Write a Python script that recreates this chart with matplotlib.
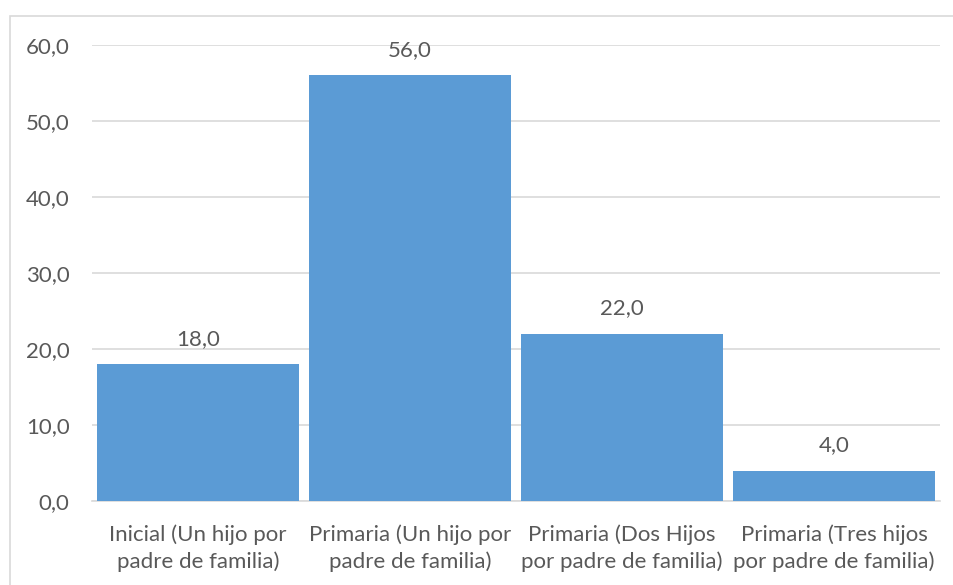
import matplotlib.pyplot as plt
from matplotlib.patches import Rectangle

# Data
categories = ["Inicial (Un hijo por\npadre de familia)",
              "Primaria (Un hijo por\npadre de familia)",
              "Primaria (Dos Hijos\npor padre de familia)",
              "Primaria (Tres hijos\npor padre de familia)"]
values = [18.0, 56.0, 22.0, 4.0]
yticks = [0, 10, 20, 30, 40, 50, 60]

text_color = "#595959"
plt.rcParams['font.family'] = ['Lato', 'DejaVu Sans']

fig = plt.figure(figsize=(9.54, 5.85), dpi=100)
ax = fig.add_axes([0.0964, 0.1436, 0.8889, 0.7795])

# outer chart border
fig.patches.append(Rectangle((10 / 954, -0.01), 0.99, 1 - 16 / 585 + 0.01,
                             transform=fig.transFigure, fill=False,
                             edgecolor="#D9D9D9", linewidth=1.2))

x = range(len(values))
bars = ax.bar(x, values, width=0.95, color="#5B9BD5", zorder=3)
for xi, v in zip(x, values):
    ax.text(xi, v + 2.0, f"{v:.1f}".replace(".", ","), ha="center", va="bottom",
            fontsize=16, color=text_color)

ax.set_xlim(-0.5, 3.5)
ax.set_ylim(0, 60)
ax.set_yticks(yticks)
ax.set_yticklabels([f"{t:.1f}".replace(".", ",") for t in yticks])
ax.set_xticks(list(x))
ax.set_xticklabels(categories, linespacing=1.35)
ax.tick_params(axis="both", length=0, colors=text_color, labelsize=16)
ax.tick_params(axis="y", pad=16)
ax.tick_params(axis="x", pad=17)
ax.grid(axis="y", color="#D9D9D9", linewidth=1.2, zorder=0)
for s in ["top", "right", "left"]:
    ax.spines[s].set_visible(False)
ax.spines["bottom"].set_color("#D9D9D9")
ax.spines["bottom"].set_linewidth(1.2)

fig.savefig("out.png", dpi=100)
